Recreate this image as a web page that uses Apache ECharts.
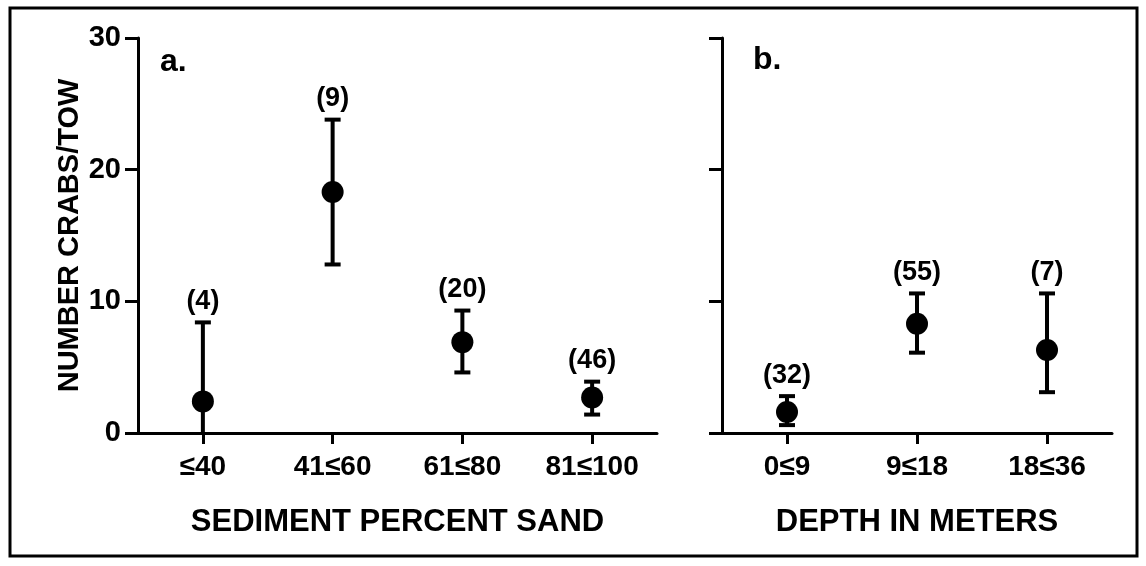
<!DOCTYPE html>
<html>
<head>
<meta charset="utf-8">
<script src="https://cdn.jsdelivr.net/npm/echarts@6/dist/echarts.min.js"></script>
<style>
  html, body { margin: 0; padding: 0; background: #fff; }
  #chart { width: 1146px; height: 566px; }
</style>
</head>
<body>
<div id="chart"></div>
<script>
// panel a: sediment percent sand
var sandCats = ['≤40', '41≤60', '61≤80', '81≤100'];
var sandMean = [2.4, 18.3, 6.9, 2.7];
var sandLow = [0, 12.8, 4.6, 1.4];
var sandHigh = [8.4, 23.8, 9.3, 3.9];
var sandN = [4, 9, 20, 46];

// panel b: depth in meters
var depthCats = ['0≤9', '9≤18', '18≤36'];
var depthMean = [1.6, 8.3, 6.3];
var depthLow = [0.6, 6.1, 3.1];
var depthHigh = [2.8, 10.6, 10.6];
var depthN = [32, 55, 7];

var yMin = 0, yMax = 30, yStep = 10;

var FONT = '"Liberation Sans", Arial, sans-serif';
var INK = '#000';

// error bar + sample size label, drawn through the axis coord system
function errorBar(params, api) {
	var x = api.value(0);
	var lo = api.coord([x, api.value(1)]);
	var hi = api.coord([x, api.value(2)]);
	var n = api.value(3);
	var cap = 8;
	var st = { stroke: INK, lineWidth: 4 };
	return {
		type: 'group',
		children: [
			{ type: 'line', shape: { x1: lo[0], y1: lo[1], x2: hi[0], y2: hi[1] }, style: st },
			{ type: 'line', shape: { x1: hi[0] - cap, y1: hi[1], x2: hi[0] + cap, y2: hi[1] }, style: st },
			{ type: 'line', shape: { x1: lo[0] - cap, y1: lo[1], x2: lo[0] + cap, y2: lo[1] }, style: st, invisible: api.value(1) <= 0 },
			{ type: 'text', x: hi[0], y: hi[1] - 21, style: {
				text: '(' + n + ')', fill: INK, font: 'bold 27px ' + FONT,
				align: 'center', verticalAlign: 'middle'
			} }
		]
	};
}

function barData(low, high, n) {
	return low.map(function (v, i) { return [i, v, high[i], n[i]]; });
}

function yAxisOf(idx, showLabels) {
	return {
		type: 'value', gridIndex: idx, min: yMin, max: yMax, interval: yStep,
		axisLine: { show: true, lineStyle: { color: INK, width: 3 } },
		axisTick: { show: true, inside: false, length: 13, lineStyle: { color: INK, width: 3 } },
		axisLabel: { show: showLabels, color: INK, fontWeight: 'bold', fontSize: 29, fontFamily: FONT, margin: 17 },
		splitLine: { show: false }
	};
}

function xAxisOf(idx, cats, name) {
	return {
		type: 'category', gridIndex: idx, data: cats, boundaryGap: true,
		name: name, nameLocation: 'middle', nameGap: 74,
		nameTextStyle: { color: INK, fontWeight: 'bold', fontSize: 31, fontFamily: FONT },
		axisLine: { show: true, lineStyle: { color: INK, width: 3 } },
		axisTick: { show: true, alignWithLabel: true, inside: false, length: 11, lineStyle: { color: INK, width: 3 } },
		axisLabel: { color: INK, fontWeight: 'bold', fontSize: 28, fontFamily: FONT, margin: 20 },
		splitLine: { show: false }
	};
}

var chart = echarts.init(document.getElementById('chart'), null, { renderer: 'canvas' });

var yA = yAxisOf(0, true);
yA.name = 'NUMBER CRABS/TOW';
yA.nameLocation = 'middle';
yA.nameRotate = 90;
yA.nameGap = 54;
yA.nameTextStyle = { color: INK, fontWeight: 'bold', fontSize: 29, fontFamily: FONT };

chart.setOption({
	backgroundColor: '#fff',
	animation: false,
	grid: [
		{ left: 138, top: 38, width: 519, height: 395 },
		{ left: 722, top: 38, width: 390, height: 395 }
	],
	xAxis: [
		xAxisOf(0, sandCats, 'SEDIMENT PERCENT SAND'),
		xAxisOf(1, depthCats, 'DEPTH IN METERS')
	],
	yAxis: [yA, yAxisOf(1, false)],
	graphic: [
		{ type: 'rect', shape: { x: 10, y: 8, width: 1127, height: 548 }, style: { fill: null, stroke: INK, lineWidth: 3 } },
		{ type: 'text', x: 160, y: 46, style: { text: 'a.', fill: INK, font: 'bold 32px ' + FONT } },
		{ type: 'text', x: 753, y: 44, style: { text: 'b.', fill: INK, font: 'bold 32px ' + FONT } }
	],
	series: [
		{ type: 'custom', xAxisIndex: 0, yAxisIndex: 0, renderItem: errorBar, data: barData(sandLow, sandHigh, sandN), z: 2 },
		{ type: 'scatter', xAxisIndex: 0, yAxisIndex: 0, data: sandMean, symbol: 'circle', symbolSize: 22, itemStyle: { color: INK, opacity: 1 }, z: 3 },
		{ type: 'custom', xAxisIndex: 1, yAxisIndex: 1, renderItem: errorBar, data: barData(depthLow, depthHigh, depthN), z: 2 },
		{ type: 'scatter', xAxisIndex: 1, yAxisIndex: 1, data: depthMean, symbol: 'circle', symbolSize: 22, itemStyle: { color: INK, opacity: 1 }, z: 3 }
	]
});
</script>
</body>
</html>
